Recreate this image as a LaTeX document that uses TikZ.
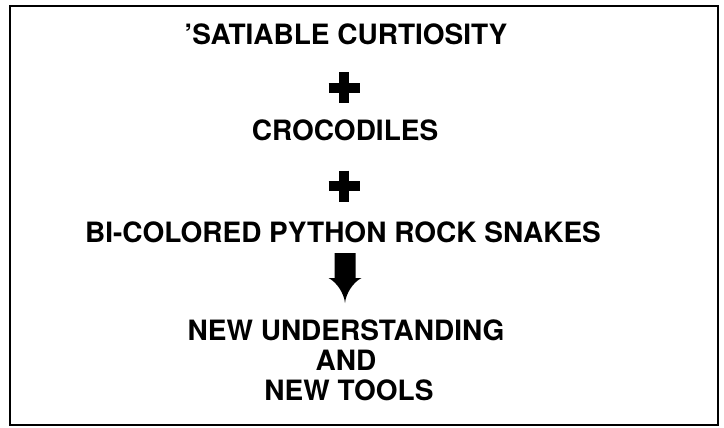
\documentclass[tikz,border=0pt]{standalone}
\usepackage{fontspec}
\setmainfont{TeX Gyre Heros}
\usepackage{tikz}
\usetikzlibrary{calc}

\begin{document}
\begin{tikzpicture}[x=1pt, y=-1pt]
        \useasboundingbox (0,0) rectangle (724,428);
        \draw[line width=2.5pt] (10,6) rectangle (718,425);

        \node[anchor=base, inner sep=0pt, font=\fontsize{28}{30}\selectfont\bfseries] (curiosity) at (346,45) {'SATIABLE CURTIOSITY};
        \node[anchor=base, inner sep=0pt, font=\fontsize{28}{30}\selectfont\bfseries] (crocs) at (345,141) {CROCODILES};
        \node[anchor=base, inner sep=0pt, font=\fontsize{28}{30}\selectfont\bfseries] (snakes) at (343,242) {BI-COLORED PYTHON ROCK SNAKES};
        \node[anchor=base, inner sep=0pt, font=\fontsize{28}{30}\selectfont\bfseries] (understanding) at (346,340) {NEW UNDERSTANDING};
        \node[anchor=base, inner sep=0pt, font=\fontsize{28}{30}\selectfont\bfseries] (andword) at (346,370) {AND};
        \node[anchor=base, inner sep=0pt, font=\fontsize{28}{30}\selectfont\bfseries] (tools) at (349,400) {NEW TOOLS};

        % plus signs
        \coordinate (plusA) at (344,88);
        \coordinate (plusB) at (344,186);
        \draw[line width=10pt] ($(plusA)+(-15.5,0)$) -- ($(plusA)+(15.5,0)$) ($(plusA)+(0,-15.5)$) -- ($(plusA)+(0,15.5)$);
        \draw[line width=10pt] ($(plusB)+(-15.5,0)$) -- ($(plusB)+(15.5,0)$) ($(plusB)+(0,-15.5)$) -- ($(plusB)+(0,15.5)$);

        % block arrow
        \coordinate (arrowtop) at (345,253);
        \fill (arrowtop) ++(-10.5,0) -- ++(21,0) -- ++(0,25) -- ++(6,0)
            .. controls +(-8,4) and +(1,-10) .. ++(-16.5,25)
            .. controls +(-1,-10) and +(8,4) .. ++(-16.5,-25) -- ++(6,0) -- cycle;
    \end{tikzpicture}
\end{document}
